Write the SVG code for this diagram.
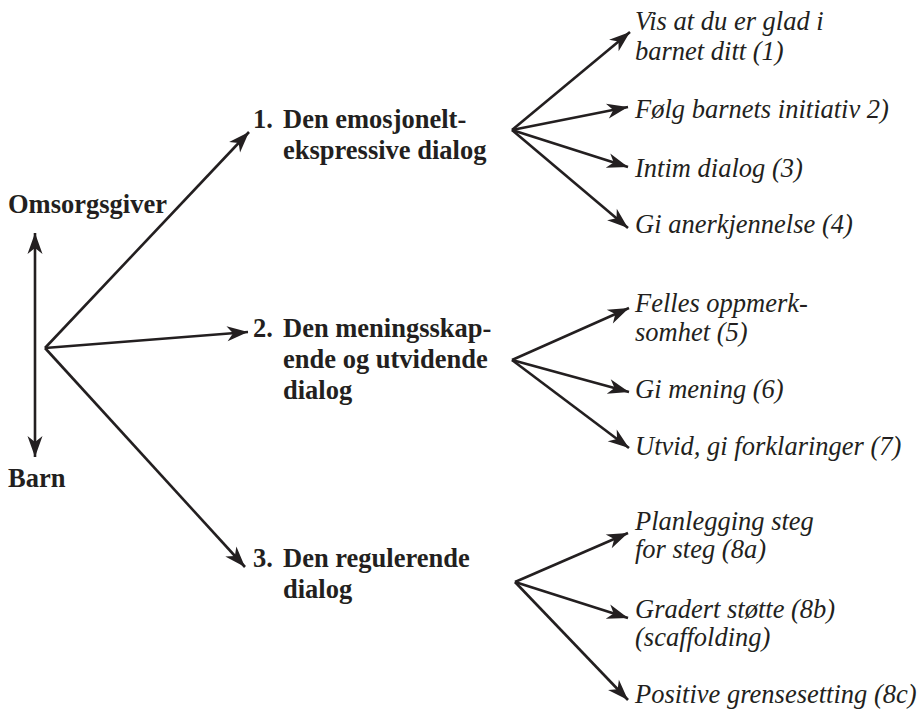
<svg xmlns="http://www.w3.org/2000/svg" width="917" height="710" viewBox="0 0 917 710">
<style>
.b{font-family:'Liberation Serif','Times New Roman',serif;font-weight:bold;font-size:26.5px;fill:#231f20}
.i{font-family:'Liberation Serif','Times New Roman',serif;font-style:italic;font-size:26.5px;fill:#231f20}
.c line{stroke:#231f20;stroke-width:2.6;marker-end:url(#ah)}
</style>
<defs>
<marker id="ah" markerUnits="userSpaceOnUse" markerWidth="24" markerHeight="18" viewBox="-22 -9 23 18" refX="0" refY="0" orient="auto">
<path d="M0,0 L-21,-7.5 L-15,0 L-21,7.5 Z" fill="#231f20"/>
</marker>
</defs>
<rect width="917" height="710" fill="#fff"/>
<g class="c" id="connectors">
<line x1="35" y1="345" x2="35" y2="233" />
<line x1="35" y1="345" x2="35" y2="457" />
<line x1="45" y1="348" x2="249" y2="132" />
<line x1="45" y1="348" x2="248" y2="332" />
<line x1="45" y1="348" x2="245" y2="567" />
<line x1="512" y1="130" x2="630" y2="32" />
<line x1="512" y1="130" x2="628" y2="107" />
<line x1="512" y1="130" x2="628" y2="167" />
<line x1="512" y1="130" x2="628" y2="228" />
<line x1="512" y1="360" x2="629" y2="308" />
<line x1="512" y1="360" x2="629" y2="392" />
<line x1="512" y1="360" x2="629" y2="448" />
<line x1="515" y1="582" x2="628" y2="533" />
<line x1="515" y1="582" x2="628" y2="618" />
<line x1="515" y1="582" x2="628" y2="700" />
</g>
<g id="omsorgsgiver"><text class="b" x="8" y="213">Omsorgsgiver</text></g>
<g id="barn"><text class="b" x="8" y="487">Barn</text></g>
<g id="d1"><text class="b" x="253" y="128">1.</text><text class="b" x="283" y="128">Den emosjonelt-</text><text class="b" x="283" y="159">ekspressive dialog</text></g>
<g id="d2"><text class="b" x="253" y="337">2.</text><text class="b" x="283" y="337">Den meningsskap-</text><text class="b" x="283" y="368">ende og utvidende</text><text class="b" x="283" y="399">dialog</text></g>
<g id="d3"><text class="b" x="253" y="567">3.</text><text class="b" x="283" y="567">Den regulerende</text><text class="b" x="283" y="598">dialog</text></g>
<g id="n1"><text class="i" x="635" y="30">Vis at du er glad i</text><text class="i" x="635" y="60">barnet ditt (1)</text></g>
<g id="n2"><text class="i" x="635" y="118">Følg barnets initiativ 2)</text></g>
<g id="n3"><text class="i" x="635" y="177">Intim dialog (3)</text></g>
<g id="n4"><text class="i" x="635" y="233">Gi anerkjennelse (4)</text></g>
<g id="n5"><text class="i" x="635" y="312">Felles oppmerk-</text><text class="i" x="635" y="341">somhet (5)</text></g>
<g id="n6"><text class="i" x="635" y="398">Gi mening (6)</text></g>
<g id="n7"><text class="i" x="635" y="455">Utvid, gi forklaringer (7)</text></g>
<g id="n8a"><text class="i" x="635" y="530">Planlegging steg</text><text class="i" x="635" y="558">for steg (8a)</text></g>
<g id="n8b"><text class="i" x="635" y="618">Gradert støtte (8b)</text><text class="i" x="635" y="646">(scaffolding)</text></g>
<g id="n8c"><text class="i" x="635" y="703">Positive grensesetting (8c)</text></g>
</svg>
